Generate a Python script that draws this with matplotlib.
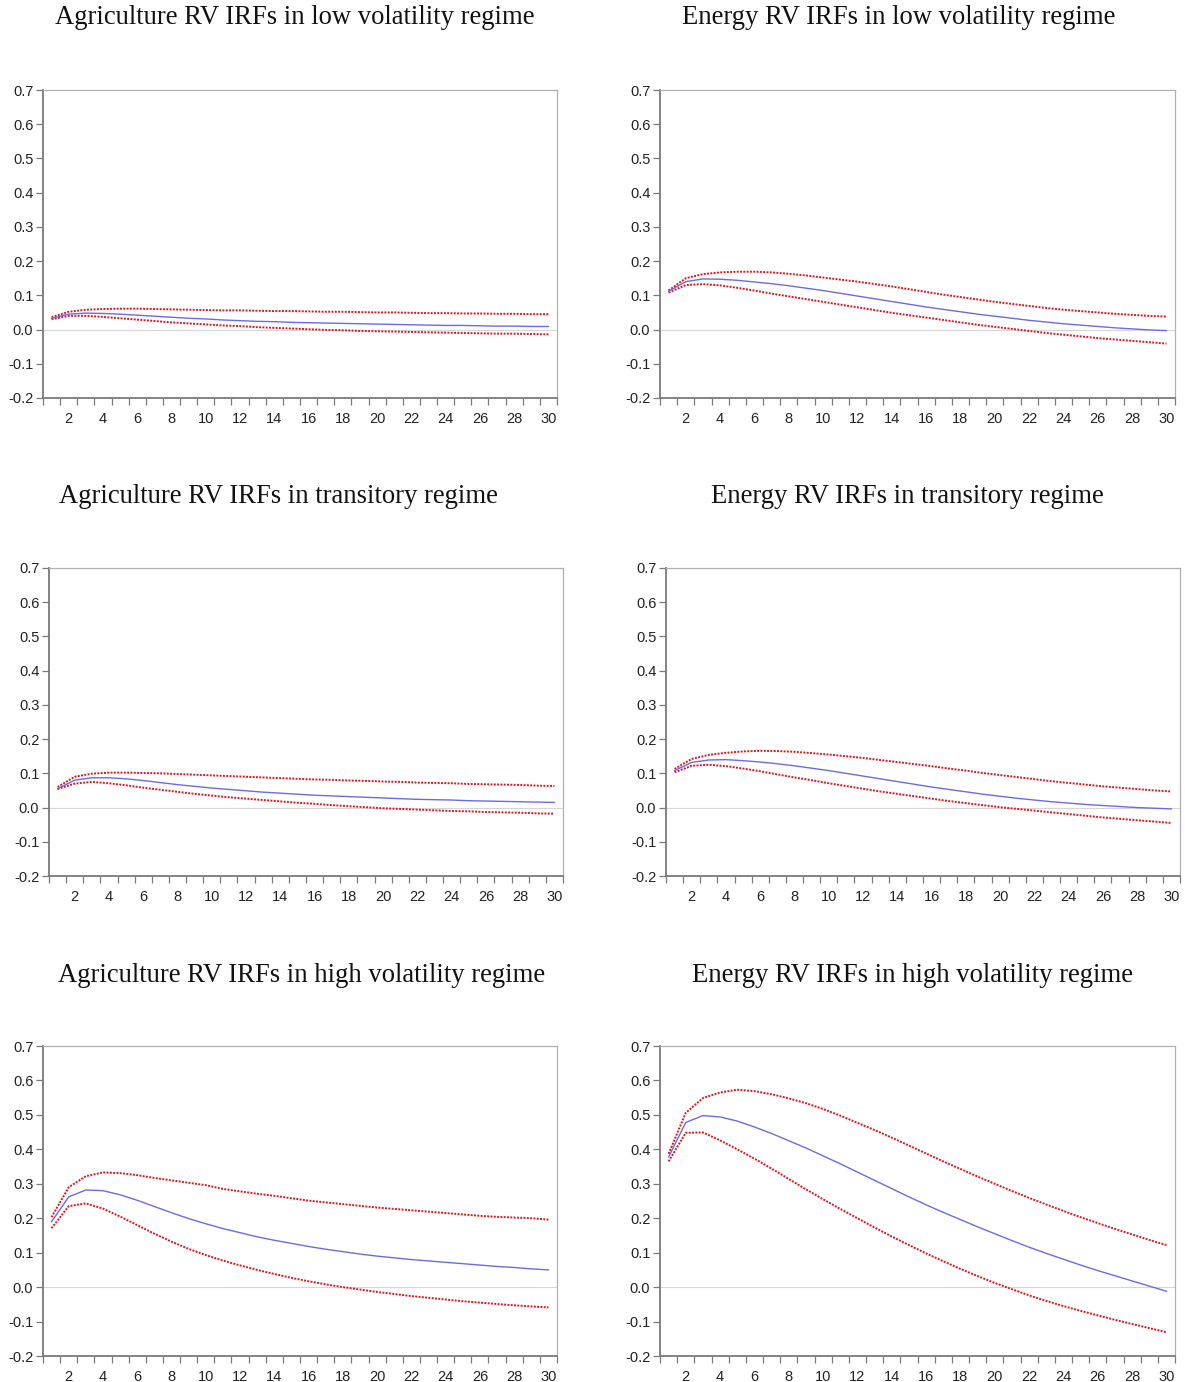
import matplotlib

matplotlib.use("Agg")
import matplotlib.pyplot as plt
from matplotlib.ticker import FixedLocator, MultipleLocator, FuncFormatter

plt.rcParams.update({
    "font.family": ["Liberation Sans", "DejaVu Sans"],
    "axes.unicode_minus": False,
})

# impulse horizon
steps = list(range(1, 31))

# Agriculture, low volatility regime
agri_low = [0.033, 0.045, 0.048, 0.047, 0.045, 0.042, 0.039, 0.036, 0.033, 0.031,
            0.028, 0.026, 0.024, 0.023, 0.021, 0.020, 0.019, 0.018, 0.017, 0.016,
            0.015, 0.014, 0.013, 0.012, 0.012, 0.011, 0.010, 0.010, 0.009, 0.009]
agri_low_hi = [0.036, 0.052, 0.058, 0.060, 0.061, 0.061, 0.060, 0.059, 0.058, 0.057,
               0.056, 0.056, 0.055, 0.054, 0.054, 0.053, 0.052, 0.052, 0.051, 0.050,
               0.050, 0.049, 0.048, 0.048, 0.047, 0.047, 0.046, 0.046, 0.045, 0.045]
agri_low_lo = [0.030, 0.040, 0.040, 0.037, 0.033, 0.029, 0.025, 0.021, 0.018, 0.015,
               0.012, 0.010, 0.007, 0.005, 0.003, 0.001, -0.001, -0.002, -0.004, -0.005,
               -0.006, -0.007, -0.008, -0.009, -0.010, -0.011, -0.012, -0.012, -0.013, -0.014]

# Energy, low volatility regime
ener_low = [0.112, 0.140, 0.148, 0.147, 0.144, 0.139, 0.134, 0.128, 0.121, 0.114,
            0.106, 0.098, 0.090, 0.082, 0.074, 0.066, 0.059, 0.052, 0.045, 0.039,
            0.033, 0.027, 0.022, 0.017, 0.013, 0.009, 0.005, 0.002, -0.001, -0.003]
ener_low_hi = [0.114, 0.150, 0.162, 0.167, 0.169, 0.169, 0.167, 0.163, 0.158, 0.152,
               0.146, 0.140, 0.133, 0.126, 0.118, 0.110, 0.102, 0.095, 0.088, 0.081,
               0.075, 0.069, 0.063, 0.058, 0.054, 0.050, 0.046, 0.043, 0.040, 0.038]
ener_low_lo = [0.108, 0.130, 0.133, 0.129, 0.122, 0.114, 0.105, 0.097, 0.089, 0.081,
               0.073, 0.065, 0.057, 0.049, 0.042, 0.035, 0.028, 0.021, 0.014, 0.008,
               0.002, -0.004, -0.010, -0.015, -0.020, -0.025, -0.029, -0.033, -0.037, -0.041]

# Agriculture, transitory regime
agri_tr = [0.055, 0.080, 0.087, 0.087, 0.084, 0.079, 0.073, 0.067, 0.062, 0.057,
           0.053, 0.049, 0.045, 0.042, 0.039, 0.036, 0.034, 0.032, 0.030, 0.028,
           0.026, 0.024, 0.023, 0.022, 0.020, 0.019, 0.018, 0.017, 0.016, 0.015]
agri_tr_hi = [0.060, 0.090, 0.099, 0.102, 0.102, 0.101, 0.100, 0.098, 0.096, 0.094,
              0.092, 0.090, 0.088, 0.086, 0.084, 0.082, 0.081, 0.079, 0.078, 0.076,
              0.075, 0.073, 0.072, 0.071, 0.069, 0.068, 0.067, 0.066, 0.064, 0.063]
agri_tr_lo = [0.054, 0.070, 0.075, 0.071, 0.065, 0.058, 0.052, 0.046, 0.040, 0.035,
              0.030, 0.026, 0.022, 0.018, 0.014, 0.011, 0.007, 0.004, 0.001, -0.002,
              -0.004, -0.006, -0.008, -0.010, -0.011, -0.013, -0.014, -0.015, -0.017, -0.018]

# Energy, transitory regime
ener_tr = [0.108, 0.132, 0.139, 0.140, 0.137, 0.133, 0.128, 0.122, 0.115, 0.108,
           0.100, 0.092, 0.084, 0.076, 0.068, 0.060, 0.053, 0.046, 0.039, 0.033,
           0.027, 0.022, 0.017, 0.013, 0.009, 0.006, 0.003, 0.000, -0.002, -0.004]
ener_tr_hi = [0.113, 0.142, 0.154, 0.160, 0.164, 0.166, 0.165, 0.163, 0.159, 0.155,
              0.150, 0.145, 0.139, 0.133, 0.127, 0.121, 0.114, 0.108, 0.101, 0.095,
              0.089, 0.083, 0.077, 0.072, 0.067, 0.062, 0.058, 0.054, 0.050, 0.047]
ener_tr_lo = [0.103, 0.122, 0.125, 0.121, 0.114, 0.106, 0.097, 0.088, 0.080, 0.071,
              0.063, 0.055, 0.047, 0.040, 0.033, 0.026, 0.019, 0.013, 0.007, 0.001,
              -0.004, -0.009, -0.014, -0.019, -0.024, -0.029, -0.033, -0.037, -0.041, -0.045]

# Agriculture, high volatility regime
agri_high = [0.190, 0.262, 0.282, 0.280, 0.268, 0.252, 0.234, 0.216, 0.199, 0.184,
             0.170, 0.158, 0.146, 0.136, 0.127, 0.118, 0.110, 0.103, 0.096, 0.090,
             0.085, 0.080, 0.076, 0.072, 0.068, 0.064, 0.060, 0.057, 0.053, 0.050]
agri_high_hi = [0.203, 0.290, 0.322, 0.333, 0.331, 0.325, 0.317, 0.310, 0.303, 0.296,
                0.285, 0.278, 0.271, 0.265, 0.258, 0.251, 0.246, 0.241, 0.236, 0.231,
                0.227, 0.223, 0.219, 0.215, 0.211, 0.207, 0.204, 0.202, 0.200, 0.196]
agri_high_lo = [0.171, 0.235, 0.243, 0.228, 0.205, 0.180, 0.155, 0.132, 0.111, 0.093,
                0.077, 0.063, 0.050, 0.038, 0.027, 0.017, 0.008, 0.000, -0.007, -0.014,
                -0.020, -0.026, -0.031, -0.036, -0.041, -0.045, -0.049, -0.053, -0.056, -0.059]

# Energy, high volatility regime
ener_high = [0.378, 0.478, 0.498, 0.494, 0.482, 0.465, 0.446, 0.425, 0.404, 0.381,
             0.358, 0.334, 0.310, 0.286, 0.262, 0.239, 0.217, 0.196, 0.175, 0.155,
             0.135, 0.116, 0.098, 0.081, 0.064, 0.048, 0.033, 0.018, 0.003, -0.012]
ener_high_hi = [0.387, 0.506, 0.549, 0.565, 0.573, 0.569, 0.560, 0.548, 0.534, 0.517,
                0.498, 0.477, 0.456, 0.434, 0.411, 0.388, 0.365, 0.343, 0.321, 0.300,
                0.279, 0.259, 0.240, 0.221, 0.203, 0.186, 0.169, 0.153, 0.137, 0.122]
ener_high_lo = [0.365, 0.448, 0.449, 0.426, 0.400, 0.373, 0.344, 0.314, 0.284, 0.255,
                0.227, 0.200, 0.173, 0.147, 0.122, 0.098, 0.075, 0.053, 0.032, 0.012,
                -0.006, -0.024, -0.040, -0.055, -0.069, -0.082, -0.095, -0.107, -0.119, -0.131]

titles = [
    "Agriculture RV IRFs in low volatility regime",
    "Energy RV IRFs in low volatility regime",
    "Agriculture RV IRFs in transitory regime",
    "Energy RV IRFs in transitory regime",
    "Agriculture RV IRFs in high volatility regime",
    "Energy RV IRFs in high volatility regime",
]
series = [
    (agri_low, agri_low_hi, agri_low_lo),
    (ener_low, ener_low_hi, ener_low_lo),
    (agri_tr, agri_tr_hi, agri_tr_lo),
    (ener_tr, ener_tr_hi, ener_tr_lo),
    (agri_high, agri_high_hi, agri_high_lo),
    (ener_high, ener_high_hi, ener_high_lo),
]

W, H = 1185, 1382
# axes boxes in pixels: left, top, right, bottom
boxes = [
    (43, 90, 557, 398), (660, 90, 1175, 398),
    (49, 568, 563, 876), (666, 568, 1180, 876),
    (43, 1046, 557, 1356), (660, 1046, 1175, 1356),
]
# title centres in pixels
title_pos = [(295, 18), (899, 18), (278, 497), (907, 497), (302, 976), (913, 976)]

BLUE = "#6b6be6"
RED = "#e3141e"
AXIS = "#7a7a7a"
FRAME = "#b0b0b0"

fig = plt.figure(figsize=(W / 100, H / 100), dpi=100)

for (l, t, r, b), (tx, ty), title, (mid, hi, lo) in zip(boxes, title_pos, titles, series):
    ax = fig.add_axes([l / W, 1 - b / H, (r - l) / W, (b - t) / H])
    ax.axhline(0, color="#d6d6d6", lw=0.8, zorder=1)
    ax.plot(steps, hi, color=RED, lw=1.4, ls=(0, (1.0, 0.7)), zorder=2)
    ax.plot(steps, lo, color=RED, lw=1.4, ls=(0, (1.0, 0.7)), zorder=2)
    ax.plot(steps, mid, color=BLUE, lw=1.0, zorder=3)

    ax.set_xlim(0.5, 30.5)
    ax.set_ylim(-0.2, 0.7)
    ax.xaxis.set_major_locator(FixedLocator(range(2, 31, 2)))
    ax.xaxis.set_minor_locator(MultipleLocator(1, offset=0.5))
    ax.yaxis.set_major_locator(MultipleLocator(0.1))
    ax.yaxis.set_major_formatter(FuncFormatter(lambda v, p: f"{v:.1f}"))
    ax.tick_params(axis="x", which="major", length=0, pad=10, labelsize=10.5,
                   labelcolor="#222222")
    ax.tick_params(axis="x", which="minor", length=5, width=0.9, color=AXIS,
                   direction="out")
    ax.tick_params(axis="y", which="major", length=5, width=0.9, color=AXIS,
                   direction="out", pad=2, labelsize=10.5, labelcolor="#222222")

    for side in ("left", "bottom"):
        ax.spines[side].set_color(AXIS)
        ax.spines[side].set_linewidth(1.3)
    for side in ("top", "right"):
        ax.spines[side].set_color(FRAME)
        ax.spines[side].set_linewidth(0.9)

    fig.text(tx / W, 1 - ty / H, title, ha="center", va="center",
             fontsize=19.2, family="Liberation Serif", color="#111111")

fig.savefig("out.png", dpi=100, facecolor="white")
